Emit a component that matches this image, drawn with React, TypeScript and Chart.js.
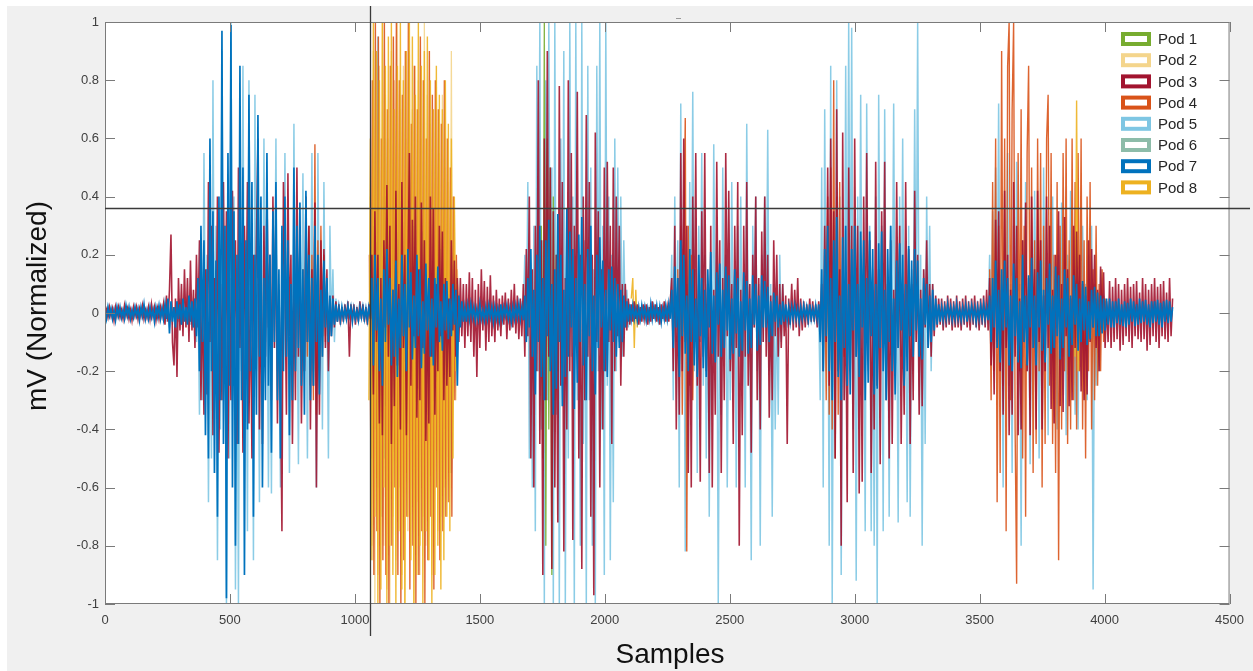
import React, { useEffect, useRef } from "react";
import { Chart, registerables } from "chart.js";
Chart.register(...registerables);

// ---------- data ----------
const STEP = 6; // samples between stored values
const xTickValues = [0, 500, 1000, 1500, 2000, 2500, 3000, 3500, 4000, 4500];
const yTickValues = [-1, -0.8, -0.6, -0.4, -0.2, 0, 0.2, 0.4, 0.6, 0.8, 1];
const podLabels = ["Pod 1", "Pod 2", "Pod 3", "Pod 4", "Pod 5", "Pod 6", "Pod 7", "Pod 8"];
const podColors = ["#77AC30", "#F4D58C", "#A2142F", "#D95319", "#7EC6E3", "#8DBCA9", "#0072BD", "#EDB120"];
const podDrawOrder = [2, 7, 1, 4, 5, 6, 0, 3]; // lower = drawn on top
const podLineWidths = [1.3, 1.3, 1.6, 1.4, 1.5, 1.3, 1.7, 1.4];
const crosshairSample = 1062;
const crosshairValue = 0.36;

// Pod 7 (blue), full record from sample 0 (each row = 120 samples)
const pod7 = [
  .01,-.02,.02,-.01,.015,-.02,.01,-.025,.02,-.01,.02,-.015,.01,-.02,.025,-.01,.02,-.02,.01,-.015,
  .02,-.01,.015,-.025,.02,-.01,.03,-.02,.01,-.02,.02,-.015,.01,-.03,.02,-.01,.025,-.02,.015,-.02,
  .03,-.02,.05,-.07,.04,-.03,.02,-.05,.04,-.02,.03,-.04,.05,-.03,.02,-.04,.06,-.03,.04,-.05,
  .05,-.08,.12,-.2,.3,-.1,.25,-.42,.15,-.5,.6,-.2,.35,-.55,.18,-.7,.4,-.3,.97,-.45,
  .3,-.98,.55,-.25,.99,-.6,.35,-.8,.2,-.45,.85,-.3,.5,-.9,.25,-.4,.75,-.2,.45,-.7,
  .2,-.35,.68,-.15,.4,-.6,.12,-.3,.55,-.25,.2,-.48,.35,-.1,.45,-.3,.15,-.5,.3,-.2,
  .4,-.15,.25,-.42,.1,-.3,.5,-.2,.3,-.12,.38,-.25,.15,-.35,.42,-.1,.2,-.3,.12,-.25,
  .3,-.1,.2,-.28,.08,-.15,.18,-.05,.12,-.1,.06,-.08,.05,-.04,.03,-.03,.02,-.025,.02,-.02,
  .015,-.02,.025,-.01,.02,-.03,.015,-.02,.01,-.025,.02,-.015,.02,-.02,.015,-.025,.02,-.01,.12,-.18,
  .2,-.06,.12,-.2,.05,-.25,.15,-.1,.22,-.04,.12,-.18,.08,-.15,.18,-.22,.05,-.12,.2,-.08,
  .1,-.2,.22,-.05,.14,-.16,.06,-.12,.2,-.08,.15,-.19,.04,-.14,.17,-.06,.12,-.15,.05,-.18,
  .12,-.05,.16,-.1,.04,-.13,.1,-.06,.11,-.09,.05,-.08,.1,-.04,.08,-.25,.06,-.05,.04,-.03,
  .02,-.03,.025,-.02,.03,-.015,.02,-.025,.015,-.02,.03,-.02,.01,-.025,.02,-.02,.025,-.015,.02,-.03,
  .02,-.02,.015,-.025,.03,-.02,.02,-.01,.025,-.02,.015,-.03,.02,-.02,.025,-.015,.03,-.02,.02,-.025,
  .06,-.1,.12,-.05,.22,-.15,.08,-.28,.2,-.1,.3,-.22,.12,-.3,.25,-.08,.32,-.2,.1,-.35,
  .15,-.26,.34,-.1,.2,-.32,.08,-.22,.36,-.15,.28,-.05,.22,-.33,.12,-.24,.27,-.1,.33,-.18,
  .1,-.3,.22,-.08,.3,-.2,.06,-.28,.2,-.12,.26,-.05,.18,-.2,.08,-.22,.15,-.06,.16,-.1,
  .12,-.15,.1,-.12,.08,-.1,.06,-.05,.04,-.03,.03,-.02,.025,-.02,.015,-.025,.02,-.02,.025,-.015,
  .02,-.025,.015,-.02,.03,-.02,.02,-.015,.025,-.02,.02,-.03,.015,-.02,.025,-.02,.03,-.02,.08,-.12,
  .16,-.05,.12,-.22,.25,-.08,.2,-.14,.06,-.2,.22,-.1,.15,-.18,.05,-.22,.2,-.08,.12,-.19,
  .08,-.22,.15,-.05,.21,-.14,.06,-.17,.14,-.04,.17,-.15,.08,-.12,.16,-.06,.13,-.16,.05,-.14,
  .15,-.07,.12,-.15,.04,-.13,.14,-.06,.11,-.14,.05,-.12,.13,-.04,.1,-.13,.06,-.11,.13,-.05,
  .11,-.05,.09,-.1,.04,-.08,.07,-.03,.06,-.05,.03,-.04,.04,-.03,.03,-.025,.02,-.03,.02,-.02,
  .025,-.02,.015,-.03,.02,-.02,.025,-.015,.02,-.025,.03,-.02,.015,-.02,.025,-.02,.03,-.1,.15,-.2,
  .22,-.08,.3,-.2,.12,-.3,.25,-.1,.33,-.22,.06,-.3,.26,-.12,.3,-.25,.1,-.28,.22,-.06,
  .3,-.15,.1,-.22,.28,-.05,.25,-.3,.12,-.24,.28,-.08,.22,-.28,.1,-.26,.24,-.12,.28,-.2,
  .08,-.3,.22,-.1,.3,-.2,.05,-.28,.18,-.12,.24,-.06,.2,-.25,.1,-.2,.23,-.08,.18,-.15,
  .22,-.06,.18,-.15,.05,-.16,.12,-.04,.1,-.12,.06,-.1,.08,-.06,.05,-.04,.03,-.03,.02,-.025,
  .02,-.02,.03,-.015,.02,-.025,.02,-.02,.03,-.02,.015,-.025,.02,-.02,.025,-.03,.02,-.015,.025,-.02,
  .02,-.03,.02,-.02,.025,-.02,.03,-.02,.02,-.025,.06,-.1,.12,-.05,.18,-.12,.08,-.17,.15,-.06,
  .18,-.05,.12,-.18,.06,-.2,.17,-.08,.12,-.17,.04,-.19,.2,-.1,.06,-.18,.13,-.05,.19,-.12,
  .06,-.18,.14,-.05,.18,-.13,.08,-.17,.12,-.04,.17,-.14,.06,-.12,.16,-.08,.13,-.16,.05,-.12,
  .15,-.05,.12,-.15,.06,-.11,.13,-.04,.1,-.13,.05,-.1,.11,-.06,.09,-.11,.04,-.09,.08,-.05,
  .09,-.08,.07,-.08,.06,-.07,.05,-.06,.05,-.04,.05,-.05,.04,-.05,.04,-.035,.05,-.04,.03,-.045,
  .04,-.05,.035,-.04,.05,-.03,.04,-.045,.03,-.04,.05,-.035,.04,-.03,.045,-.04,.03,-.05,.04,-.035,
  .04,-.03,.045,-.04,.035,-.05,.04,-.03,.045,-.035,.04,-.03,.02,
];

// Pod 3 (dark red), full record from sample 0
const pod3 = [
  -.02,.01,-.015,.02,-.01,.015,-.025,.02,-.01,.02,-.015,.01,-.02,.025,-.01,.015,-.02,.01,-.025,.02,
  -.01,.02,-.02,.015,-.01,.025,-.02,.01,-.015,.02,-.02,.03,-.01,.02,-.025,.015,-.02,.02,-.01,.03,
  -.04,.06,-.03,.08,.27,-.1,-.18,.05,-.22,.12,-.06,.1,-.08,.15,-.05,.12,-.1,.18,-.06,.08,
  -.12,.2,-.05,.25,-.3,.08,-.35,.15,-.28,.45,-.1,.3,-.42,.12,-.2,.4,-.48,.1,-.3,.45,
  -.15,.35,-.5,.12,-.3,.42,-.08,.25,-.45,.5,-.12,.2,-.48,.3,-.1,.45,-.38,.08,-.5,.2,
  -.1,.25,.6,-.4,.1,-.45,.3,-.15,.42,-.05,.2,-.3,.4,-.12,.35,-.38,.08,-.2,-.75,.45,
  .12,-.35,.48,-.08,.2,-.45,.1,-.3,.5,-.15,.25,-.38,.05,-.2,.4,-.1,.3,-.4,.15,-.25,
  .38,-.6,.12,-.35,.25,-.08,.22,-.12,.15,-.2,.05,-.08,.06,-.05,.04,-.03,.03,-.04,.02,-.03,
  .03,-.02,.04,-.15,.03,-.02,.03,-.04,.02,-.03,.04,-.02,.03,-.03,.02,-.04,.03,-.02,.2,-.28,
  .35,-.1,.2,-.38,.12,-.42,.25,-.05,.44,-.15,.3,-.45,.08,-.32,.42,-.18,.1,-.4,.45,-.12,
  .2,-.42,.1,.55,-.25,.32,-.08,.4,-.36,.15,-.3,.38,-.12,.25,-.44,.05,-.38,.4,-.15,.36,
  -.35,.1,-.2,.3,-.08,.28,-.3,.12,-.25,.05,-.22,.25,-.06,.18,-.15,.12,-.1,.12,-.08,.1,
  -.12,.1,-.08,.14,-.1,.12,-.15,.08,-.22,.1,-.12,.15,-.06,.11,-.13,.09,-.1,.13,-.08,.06,
  -.1,.08,-.06,.05,-.08,.06,-.04,.07,-.09,.05,-.06,.08,-.05,.1,-.07,.06,-.09,.05,-.08,.1,
  -.15,.22,-.08,.4,-.5,.15,-.6,.3,-.2,.8,-.45,.25,-.9,.6,-.3,.9,-.15,.5,-.88,.35,
  -.6,.2,-.72,.78,-.25,.45,-.82,.12,-.4,.8,-.2,.55,-.78,.3,-.1,.76,-.5,.2,-.88,.4,
  -.3,.68,-.15,.45,-.7,.2,-.97,.62,-.1,.35,-.6,.15,-.4,.5,-.2,.52,-.1,.3,-.45,.5,
  -.2,.4,-.08,.3,-.25,.1,-.15,.1,-.06,.05,-.04,.03,-.03,.04,-.02,.03,-.04,.02,-.03,.03,
  -.02,.03,-.04,.02,-.03,.04,-.02,.03,-.03,.02,-.04,.03,-.02,.04,-.03,.02,-.03,.04,.12,-.2,
  .3,-.4,.12,-.35,.55,-.2,.6,-.1,.3,-.55,.15,-.6,.4,-.12,.55,-.25,.1,-.58,.35,-.15,
  .55,-.2,.1,-.55,.3,-.6,.08,-.35,.52,-.15,.25,-.55,.12,-.3,.55,-.08,.42,-.2,.1,-.45,
  .3,-.12,.45,-.8,.08,-.42,.3,-.15,.45,-.25,.1,-.48,.2,-.05,.4,-.3,.12,-.4,.28,-.1,
  .4,-.15,.2,-.36,.06,-.3,.25,-.08,.2,-.15,.1,-.12,.1,-.08,.06,-.45,.05,-.04,.1,-.06,
  .08,-.05,.12,-.08,.05,-.06,.04,-.05,.03,-.04,.05,-.03,.04,-.03,.03,-.05,.04,-.03,.1,-.2,
  .3,-.1,.5,-.25,.6,-.15,.35,-.5,.7,-.2,.15,-.8,.62,-.3,.1,-.65,.5,-.2,.3,-.55,
  .6,-.15,.3,-.62,.1,-.58,.4,-.2,.55,-.1,.25,-.55,.08,-.4,.52,-.25,.15,-.52,.35,-.12,
  .52,-.3,.1,-.5,.25,-.45,.08,-.2,.45,-.12,.3,-.45,.05,-.35,.45,-.15,.22,-.45,.1,-.3,
  .42,-.1,.2,-.35,.08,-.32,.15,-.05,.25,-.12,.1,-.15,.1,-.08,.06,-.05,.05,-.04,.05,-.06,
  .04,-.05,.06,-.04,.05,-.06,.04,-.05,.06,-.05,.04,-.06,.05,-.04,.06,-.05,.04,-.06,.05,-.04,
  .06,-.05,.04,-.06,.05,-.04,.06,-.05,.08,-.06,.12,-.18,.06,-.28,.32,-.1,.35,-.2,.08,-.35,
  .42,-.12,.2,-.42,.08,-.35,.45,-.15,.3,-.42,.05,-.4,.25,-.1,.38,-.2,.12,-.42,.4,-.08,
  .15,-.4,.42,-.1,.25,-.4,.06,-.2,.4,-.12,.3,-.33,.08,-.38,.2,-.05,.35,-.32,.1,-.34,
  .33,-.08,.15,-.32,.05,-.3,.3,-.12,.28,-.05,.2,-.27,.1,-.3,.06,-.28,.25,-.1,.22,-.05,
  .2,-.12,.08,-.2,.16,-.05,.14,-.12,.04,-.1,.11,-.12,.09,-.1,.12,-.09,.1,-.13,.08,-.11,
  .1,-.08,.12,-.1,.09,-.12,.1,-.08,.11,-.09,.07,-.1,.12,-.09,.1,-.13,.08,-.11,.1,-.08,
  .12,-.1,.09,-.12,.1,-.08,.11,-.09,.07,-.1,.12,-.08,.05,
];

// Pod 5 (light blue), full record from sample 0
const pod5 = [
  .01,-.01,.02,-.01,.01,-.02,.01,-.01,.02,-.01,.01,-.02,.01,-.01,.02,-.01,.01,-.02,.01,-.01,
  .02,-.01,.01,-.02,.01,-.01,.02,-.01,.01,-.02,.01,-.01,.02,-.01,.01,-.02,.01,-.01,.02,-.01,
  .02,-.03,.04,-.05,.03,-.04,.02,-.03,.04,-.03,.05,-.04,.03,-.02,.04,-.03,.05,-.04,.03,-.05,
  .05,-.1,.08,-.35,.15,-.3,.55,-.1,.2,-.65,.12,-.5,.8,-.2,.3,-.85,.1,-.4,.9,-.15,
  .3,-1,.2,-.5,1,-.15,.4,-.95,.1,-1,.35,-.2,.85,-.3,.15,-.75,.8,-.1,.3,-.85,
  .75,-.2,.1,-.65,.25,-.3,.6,-.1,.2,-.6,.15,-.62,.3,-.12,.6,-.2,.1,-.6,.25,-.15,
  .55,-.1,.2,-.55,.08,-.3,.65,-.15,.1,-.52,.3,-.1,.48,-.2,.12,-.5,.2,-.08,.55,-.2,
  .15,-.6,.55,-.1,.2,-.4,.45,-.08,.1,-.5,.3,-.05,.15,-.1,.05,-.03,.02,-.01,.02,-.01,
  .01,-.02,.01,-.01,.02,-.01,.01,-.02,.01,-.01,.02,-.01,.01,-.02,.01,-.01,.02,-.01,.2,-.3,
  .1,-.2,.95,-.05,.1,-.25,.08,-.32,.05,-.12,.3,-.05,.1,-.3,.06,-.1,.25,-.05,.1,-.22,
  .05,-.18,.2,-.06,.1,-.2,.3,-.05,.08,-.26,.1,-.04,.28,-.1,.05,-.24,.12,-.06,.18,-.1,
  .06,-.22,.1,-.05,.22,-.1,.05,-.18,.12,-.06,.08,-.55,.15,-.05,.1,-.08,.05,-.03,.02,-.01,
  .01,-.02,.01,-.01,.02,-.01,.01,-.02,.01,-.01,.02,-.01,.01,-.02,.01,-.01,.02,-.01,.01,-.02,
  .01,-.01,.02,-.01,.01,-.02,.01,-.01,.02,-.01,.01,-.02,.01,-.01,.02,-.01,.01,-.02,.01,-.01,
  .2,-.1,.45,-.5,.15,-.6,.3,-.75,.85,-.2,1,-.4,.25,-1,.8,-.3,1,-.15,.5,-1,
  1,-.35,.2,-1,.6,-.25,.9,-1,.3,-.5,1,-.15,.4,-1,1,-.3,.2,-.8,1,-.45,
  .25,-1,.85,-.3,.5,-.8,.15,-1,.85,-.2,1,-.4,.3,-.9,1,-.25,.4,-.85,.2,-.65,
  .6,-.2,.5,-.1,.4,-.15,.25,-.05,.08,-.05,.02,-.01,.02,-.01,.01,-.02,.01,-.01,.02,-.01,
  .01,-.02,.01,-.01,.02,-.01,.01,-.02,.01,-.01,.02,-.01,.01,-.02,.01,-.01,.02,-.01,.2,-.3,
  .4,-.1,.25,-.6,.72,-.15,.3,-.82,.1,-.3,.45,-.1,.76,-.2,.15,-.55,.3,-.1,.55,-.25,
  .2,-.5,.1,-.7,.15,-.3,.58,-.1,.25,-1,.1,-.35,.5,-.1,.2,-.6,.08,-.3,.45,-.12,
  .15,-.6,.3,-.1,.4,-.25,.1,-.6,.65,-.15,.1,-.85,.3,-.05,.4,-.2,.1,-.8,.2,-.1,
  .4,-.1,.63,-.2,.1,-.7,.1,-.4,.05,-.35,.2,-.1,.1,-.05,.02,-.01,.02,-.01,.01,-.02,
  .01,-.01,.02,-.01,.01,-.02,.01,-.01,.02,-.01,.01,-.02,.01,-.01,.02,-.01,.01,-.3,.5,-.6,
  .7,-.2,.3,-.8,.85,-1,.2,-.5,.8,-.15,.4,-.9,.1,-.3,.85,-.25,1,-.15,.98,-.4,
  .2,-.92,.4,-.15,.75,-.3,.1,-.75,.72,-.2,.3,-.75,.15,-.8,.4,-1,.75,-.1,.3,-.75,
  .7,-.2,.15,-.7,.3,-.1,.72,-.3,.1,-.72,.4,-.15,.6,-.25,.1,-.65,.3,-.7,.15,-.2,
  .7,-.1,1,-.3,.2,-.8,.15,-.45,.4,-.1,.3,-.2,.1,-.05,.02,-.01,.01,-.02,.01,-.01,
  .02,-.01,.01,-.02,.01,-.01,.02,-.01,.01,-.02,.01,-.01,.02,-.01,.01,-.02,.01,-.01,.02,-.01,
  .01,-.02,.01,-.01,.02,-.01,.01,-.02,.01,-.01,.2,-.05,.35,-.15,.5,-.1,.72,-.2,.1,-.6,
  .2,-.1,.55,-.25,.1,-.55,.3,-.08,.52,-.15,.1,-.8,.25,-.1,.45,-.2,.08,-.52,.15,-.1,
  .42,-.1,.2,-.5,.08,-.25,.5,-.1,.15,-.42,.3,-.08,.4,-.15,.1,-.4,.2,-.05,.38,-.15,
  .1,-.42,.2,-.05,.42,-.1,.15,-.35,.05,-.4,.2,-.1,.3,-.05,.1,-.3,.2,-.08,.3,-.95,
  .1,-.25,.05,-.2,.15,-.05,.06,-.04,.03,-.02,.02,-.01,.02,-.01,.01,-.02,.01,-.01,.02,-.01,
  .01,-.02,.01,-.01,.02,-.01,.01,-.02,.01,-.01,.02,-.01,.01,-.02,.01,-.01,.02,-.01,.01,-.02,
  .01,-.01,.02,-.01,.01,-.02,.01,-.01,.02,-.01,.01,-.02,.01,
];

// Pod 4 (orange) bursts, with their starting samples
const pod4Burst1Start = 792;
const pod4Burst1 = [.15,-.2,.25,-.15,.3,-.25,.2,-.3,.58,-.35,.25,-.2,.3,-.15,.2,-.1];
const pod4Burst2Start = 1058;
const pod4Burst2 = [
  .2,-.5,.8,-.9,1,-.75,.95,-1,.6,-.85,1,-.9,.7,-1,.85,-.8,.95,-.6,1,-.9,
  .8,-1,.75,-.85,.9,-.7,1,-.95,.65,-.8,.85,-1,.7,-.9,.95,-.75,.8,-1,.6,-.85,
  .9,-.7,.75,-.95,.8,-.6,.7,-.85,.65,-.75,.8,-.7,.6,-.65,.5,-.7,.4,-.3,.2,-.1,.05,
];
const pod4Burst4Start = 2292;
const pod4Burst4 = [.15,-.2,.3,-.35,.25,.67,-.82,.3,-.25,.2,-.3,.15,-.1];
const pod4Burst5Start = 2880;
const pod4Burst5 = [.2,-.3,.4,-.35,.5,-.4,.8,-.5,.4,-.35,.45,-.3,.2,-.15];
const pod4Burst6Start = 3540;
const pod4Burst6 = [
  .15,-.3,.45,-.2,.6,-.65,.3,-.55,.9,-.25,.6,-.75,.85,1,-.3,.7,1,-.4,-.93,.55,
  -.2,.7,-.5,.3,-.7,.55,.85,-.3,.5,-.55,.25,-.45,.6,-.2,.55,-.6,.3,-.45,.6,.75,
  -.25,.55,-.45,.2,-.55,.45,-.85,.3,-.4,.55,-.2,.6,-.45,.25,-.4,.6,-.3,.45,-.4,.55,
  -.2,.6,-.4,.25,-.5,.4,-.2,.45,-.4,.15,-.3,.3,-.25,.1,-.2,.15,-.1,.05,-.03,
];

// Pod 8 (yellow)
const pod8Burst2Start = 1056;
const pod8Burst2 = [
  -.3,.6,-.85,1,-.7,.9,-1,.8,-.95,1,-.6,.85,-1,.95,-.8,1,-.9,.7,-1,.85,
  -.75,1,-.95,.8,-1,.9,-.7,1,-.85,.95,-1,.75,-.9,1,-.8,.85,-1,.9,-.75,.95,
  -.85,.8,-1,.7,-.9,.85,-.8,.75,-.95,.7,-.85,.8,-.7,.65,-.75,.6,-.5,.4,-.2,.1,-.05,
];
const pod8Blip3Start = 2106;
const pod8Blip3 = [.05,.12,-.12,.08,-.05];
const pod8Blip6Start = 3876;
const pod8Blip6 = [.1,-.15,.73,-.2,.1];

// Pod 2 (pale yellow)
const pod2Burst2Start = 1062;
const pod2Burst2 = [
  .4,-.8,.9,-1,.7,-.9,.85,-.6,1,-.8,.75,-.95,.6,-1,.9,-.7,.8,-.85,1,-.6,
  .7,-.9,.85,-1,.6,-.75,.9,-.8,.7,-1,.85,-.65,.8,-.9,.6,-.7,1,-.8,.75,-.85,
  .65,-.9,.7,-.6,.8,-.75,.55,-.7,.75,-.6,.5,-.65,.45,-.55,.9,-.5,.35,-.3,.15,-.05,
];

// Pod 1 (green)
const pod1Burst3Start = 1746;
const pod1Burst3 = [.3,-.5,1,-.8,.6,-.4,.5,-.9,.4,-.3,.2,-.2];

// Pod 6 (grey green)
const pod6Burst2Start = 1074;
const pod6Burst2 = [.3,-.4,.9,-.6,.5,-.7,.4,-.5,.6,-.3,.2,-.2];

type Seg = { start: number; values: number[] };
function buildPoints(segs: Seg[]) {
  const pts: { x: number; y: number | null }[] = [];
  segs.forEach((s, k) => {
    s.values.forEach((v, i) => pts.push({ x: s.start + i * STEP, y: v }));
    if (k < segs.length - 1) pts.push({ x: s.start + s.values.length * STEP, y: null });
  });
  return pts;
}

const podSegments: Seg[][] = [
  [{ start: pod1Burst3Start, values: pod1Burst3 }],
  [{ start: pod2Burst2Start, values: pod2Burst2 }],
  [{ start: 0, values: pod3 }],
  [
    { start: pod4Burst1Start, values: pod4Burst1 },
    { start: pod4Burst2Start, values: pod4Burst2 },
    { start: pod4Burst4Start, values: pod4Burst4 },
    { start: pod4Burst5Start, values: pod4Burst5 },
    { start: pod4Burst6Start, values: pod4Burst6 },
  ],
  [{ start: 0, values: pod5 }],
  [{ start: pod6Burst2Start, values: pod6Burst2 }],
  [{ start: 0, values: pod7 }],
  [
    { start: pod8Burst2Start, values: pod8Burst2 },
    { start: pod8Blip3Start, values: pod8Blip3 },
    { start: pod8Blip6Start, values: pod8Blip6 },
  ],
];

const FONT = "'Liberation Sans', Arial, Helvetica, sans-serif";

const decorPlugin = {
  id: "decor",
  beforeDraw(chart: any) {
    const { ctx, width, height, chartArea } = chart;
    ctx.save();
    ctx.fillStyle = "#ffffff";
    ctx.fillRect(0, 0, width, height);
    ctx.fillStyle = "#F0F0F0";
    ctx.fillRect(7, 6, width - 7, height - 6);
    ctx.fillStyle = "#ffffff";
    ctx.fillRect(chartArea.left, chartArea.top, chartArea.right - chartArea.left, chartArea.bottom - chartArea.top);
    ctx.restore();
  },
  afterDraw(chart: any) {
    const { ctx, chartArea, scales, width } = chart;
    const { left, right, top, bottom } = chartArea;
    ctx.save();
    ctx.strokeStyle = "#7a7a7a";
    ctx.lineWidth = 1;
    ctx.strokeRect(left + 0.5, top + 0.5, right - left - 1, bottom - top - 1);
    ctx.beginPath();
    const tl = 10;
    xTickValues.forEach((v) => {
      const px = Math.round(scales.x.getPixelForValue(v)) + 0.5;
      ctx.moveTo(px, bottom); ctx.lineTo(px, bottom - tl);
      ctx.moveTo(px, top); ctx.lineTo(px, top + tl);
    });
    yTickValues.forEach((v) => {
      const py = Math.round(scales.y.getPixelForValue(v)) + 0.5;
      ctx.moveTo(left, py); ctx.lineTo(left + tl, py);
      ctx.moveTo(right, py); ctx.lineTo(right - tl, py);
    });
    ctx.stroke();
    ctx.beginPath();
    ctx.moveTo(676, 18.5); ctx.lineTo(681, 18.5);
    ctx.strokeStyle = "#999";
    ctx.stroke();
    const cx = Math.round(scales.x.getPixelForValue(crosshairSample)) + 0.5;
    const cy = Math.round(scales.y.getPixelForValue(crosshairValue)) + 0.5;
    ctx.strokeStyle = "#3a3a3a";
    ctx.lineWidth = 1.3;
    ctx.beginPath();
    ctx.moveTo(cx, 6); ctx.lineTo(cx, 636);
    ctx.moveTo(left, cy); ctx.lineTo(width - 3, cy);
    ctx.stroke();
    ctx.textBaseline = "middle";
    ctx.textAlign = "left";
    ctx.font = `15px ${FONT}`;
    podLabels.forEach((lab, i) => {
      const yy = 39 + i * 21.2;
      ctx.strokeStyle = podColors[i];
      ctx.lineWidth = 4;
      ctx.fillStyle = "#fff";
      ctx.fillRect(1123, yy - 5, 26, 10);
      ctx.strokeRect(1123, yy - 5, 26, 10);
      ctx.fillStyle = "#262626";
      ctx.fillText(lab, 1158, yy + 1);
    });
    ctx.fillStyle = "#111";
    ctx.font = `28px ${FONT}`;
    ctx.textAlign = "center";
    ctx.fillText("Samples", 670, 655);
    ctx.translate(38, 306);
    ctx.rotate(-Math.PI / 2);
    ctx.fillText("mV (Normalized)", 0, 0);
    ctx.restore();
  },
};

export default function App() {
  const ref = useRef<HTMLCanvasElement | null>(null);
  useEffect(() => {
    if (!ref.current) return;
    const datasets = podLabels.map((lab, i) => ({
      label: lab,
      data: buildPoints(podSegments[i]),
      borderColor: podColors[i] + (i === 6 ? "FF" : "E6"),
      backgroundColor: podColors[i],
      borderWidth: podLineWidths[i],
      pointRadius: 0,
      tension: 0,
      spanGaps: false,
      order: podDrawOrder[i],
    }));
    const chart = new Chart(ref.current, {
      type: "line",
      data: { datasets },
      options: {
        animation: false,
        responsive: false,
        events: [],
        layout: { padding: { left: 0, top: 22, right: 21, bottom: 0 } },
        plugins: { legend: { display: false }, tooltip: { enabled: false } },
        scales: {
          x: {
            type: "linear",
            min: 0,
            max: 4500,
            grid: { display: false, drawTicks: false },
            border: { display: false },
            afterFit: (s: any) => { s.height = 67; },
            ticks: {
              stepSize: 500,
              maxRotation: 0,
              autoSkip: false,
              padding: 9,
              color: "#404040",
              font: { family: FONT, size: 13 },
              callback: (v: any) => String(v),
            },
          },
          y: {
            type: "linear",
            min: -1,
            max: 1,
            grid: { display: false, drawTicks: false },
            border: { display: false },
            afterFit: (s: any) => { s.width = 105; },
            ticks: {
              stepSize: 0.2,
              padding: 6,
              color: "#404040",
              font: { family: FONT, size: 13 },
              callback: (v: any) => String(Number(Number(v).toFixed(1))),
            },
          },
        },
      },
      plugins: [decorPlugin],
    });
    return () => chart.destroy();
  }, []);
  return (
    <div style={{ position: "fixed", left: 0, top: 0, width: 1253, height: 671 }}>
      <canvas ref={ref} width={1253} height={671} style={{ display: "block", width: 1253, height: 671 }} />
    </div>
  );
}
